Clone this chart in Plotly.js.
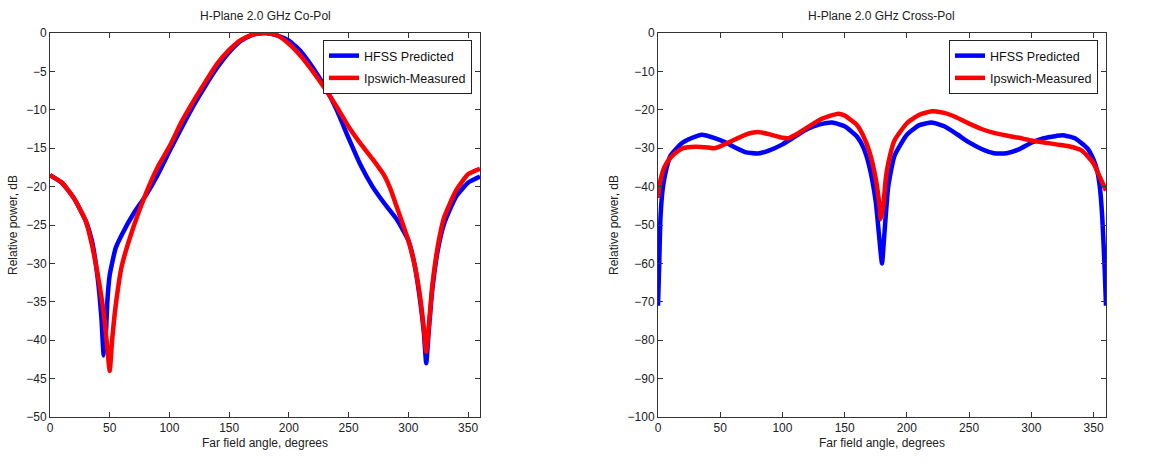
<!DOCTYPE html>
<html>
<head>
<meta charset="utf-8">
<script src="https://cdn.plot.ly/plotly-3.0.1.min.js"></script>
<style>html,body{margin:0;padding:0;background:#fff;}#chart{width:1159px;height:466px;}</style>
</head>
<body>
<div id="chart"></div>
<script>
// ---- Co-Pol (left) ----
const coAngleBlue = [0,10,20,30,35,40,43,45,47,48,50,55,60,70,80,90,100,110,120,130,140,150,160,170,180,190,200,210,220,230,240,250,260,270,280,290,300,305,310,313,315,317,320,325,330,340,350,360];
const coBlue      = [-18.5,-19.5,-21.5,-24.5,-27,-32,-37,-42,-38.5,-35,-31.5,-28,-26.3,-23.5,-21.2,-18.5,-15.4,-12.4,-9.5,-6.9,-4.5,-2.5,-1,-0.2,0,-0.3,-1,-2.4,-4.5,-7,-10,-13.7,-17.2,-20,-22.2,-24.2,-27,-30,-35,-39,-43,-39,-33.5,-28,-24.8,-21.3,-19.5,-18.7];
const coAngleRed  = [0,10,20,30,35,40,45,48,50,52,55,60,70,80,90,100,110,120,130,140,150,160,170,180,190,200,210,220,230,240,250,260,270,280,285,290,300,305,310,313,315,317,320,325,330,340,350,360];
const coRed       = [-18.5,-19.5,-21.5,-24.5,-27.5,-31.5,-36.5,-41,-44,-40,-35.5,-30.4,-25.2,-21,-17.5,-14.8,-11.6,-8.9,-6.4,-4,-2.2,-0.9,-0.2,0,-0.3,-1.4,-3,-5,-7.2,-9.6,-12.2,-14.4,-16.4,-18.6,-20.3,-22.5,-27,-30,-34.5,-38.5,-41.5,-38.5,-33,-27.5,-24,-20.5,-18.4,-17.7];

// ---- Cross-Pol (right) ----
const xpAngleBlue = [0,1,2,4,7,10,15,20,30,35,45,55,60,70,80,90,100,110,120,130,140,150,160,165,170,175,178,180,182,185,190,200,210,220,230,240,250,260,270,280,290,300,310,320,325,335,345,350,353,355,357,359,360];
const xpBlue      = [-71,-60,-48,-40,-35,-32,-30,-28.5,-27,-26.5,-27.3,-28.6,-29.5,-31,-31.4,-30.5,-29,-27,-25,-23.8,-23.3,-24.3,-27,-29.8,-35,-44,-54,-60,-52,-40,-32,-26.5,-24,-23.3,-24.3,-26.3,-28.5,-30.2,-31.3,-31.3,-30.3,-28.6,-27.4,-26.8,-26.6,-27.4,-30,-33,-36,-40,-48,-62,-71];
const xpAngleRed  = [0,1,3,5,10,15,20,30,40,45,50,60,70,80,90,100,105,110,120,130,140,145,150,160,165,170,175,178,179,181,183,185,190,200,210,220,230,240,250,260,270,280,290,300,310,320,330,340,345,350,355,360];
const xpRed       = [-43,-40,-37,-35,-32.5,-31,-30,-29.6,-29.8,-30,-29.5,-28,-26.5,-25.8,-26.4,-27.3,-27.4,-26.6,-24.6,-22.6,-21.4,-21,-21.5,-24,-26.8,-31,-38,-45,-48.5,-45,-38,-34,-28,-23.5,-21.3,-20.4,-20.8,-22,-23.6,-25,-26,-26.7,-27.3,-28,-28.5,-29,-29.5,-30.5,-32,-34,-37.5,-41];

const seriesNames = ['HFSS Predicted', 'Ipswich-Measured'];
const titles = ['H-Plane 2.0 GHz Co-Pol', 'H-Plane 2.0 GHz Cross-Pol'];
const xTickVals = [0,50,100,150,200,250,300,350];
const coYTicks = [0,-5,-10,-15,-20,-25,-30,-35,-40,-45,-50];
const xpYTicks = [0,-10,-20,-30,-40,-50,-60,-70,-80,-90,-100];

const FONT = 'Liberation Sans, Arial, sans-serif';
const BLUE = '#0000ff', RED = '#ff0000';

const line = (c) => ({color: c, width: 4.5, shape: 'spline', smoothing: 0.5});

const traces = [
  {x: coAngleBlue, y: coBlue, name: seriesNames[0], mode: 'lines', line: line(BLUE), xaxis: 'x', yaxis: 'y', legend: 'legend', legendgroup: 'a'},
  {x: coAngleRed, y: coRed, name: seriesNames[1], mode: 'lines', line: line(RED), xaxis: 'x', yaxis: 'y', legend: 'legend', legendgroup: 'b'},
  {x: xpAngleBlue, y: xpBlue, name: seriesNames[0], mode: 'lines', line: line(BLUE), xaxis: 'x2', yaxis: 'y2', legend: 'legend2', legendgroup: 'c'},
  {x: xpAngleRed, y: xpRed, name: seriesNames[1], mode: 'lines', line: line(RED), xaxis: 'x2', yaxis: 'y2', legend: 'legend2', legendgroup: 'd'}
];

const W = 1159, H = 466;
const yDom = [(H - 417) / H, (H - 33) / H];

function xAxis(dom) {
  return {
    domain: dom, range: [0, 360], tickvals: xTickVals, ticks: 'inside', ticklen: 5,
    tickcolor: '#333', showline: true, linecolor: '#333', linewidth: 1, mirror: 'ticks',
    showgrid: false, zeroline: false, tickfont: {family: FONT, size: 12, color: '#222'},
    title: {text: 'Far field angle, degrees', font: {family: FONT, size: 12, color: '#222'}, standoff: 4},
    fixedrange: true
  };
}
function yAxis(dom, range, ticks, anchor) {
  return {
    domain: dom, range: range, tickvals: ticks, ticks: 'inside', ticklen: 5, anchor: anchor,
    tickcolor: '#333', showline: true, linecolor: '#333', linewidth: 1, mirror: 'ticks',
    showgrid: false, zeroline: false, tickfont: {family: FONT, size: 12, color: '#222'},
    title: {text: 'Relative power, dB', font: {family: FONT, size: 12, color: '#222'}, standoff: 6},
    fixedrange: true
  };
}

const legendBase = {
  yanchor: 'top', xanchor: 'right', bgcolor: '#fff', bordercolor: '#222', borderwidth: 1,
  font: {family: FONT, size: 12.5, color: '#111'}, tracegroupgap: 3
};

const layout = {
  width: W, height: H, margin: {l: 0, r: 0, t: 0, b: 0},
  paper_bgcolor: '#fff', plot_bgcolor: '#fff', showlegend: true,
  xaxis: Object.assign(xAxis([50 / W, 480 / W]), {anchor: 'y'}),
  yaxis: yAxis(yDom, [-50, 0], coYTicks, 'x'),
  xaxis2: Object.assign(xAxis([658 / W, 1106 / W]), {anchor: 'y2'}),
  yaxis2: yAxis(yDom, [-100, 0], xpYTicks, 'x2'),
  legend: Object.assign({x: 472 / W, y: 1 - 40 / H}, legendBase),
  legend2: Object.assign({x: 1098 / W, y: 1 - 40 / H}, legendBase),
  annotations: [
    {text: titles[0], xref: 'paper', yref: 'paper', x: 265 / W, y: 1 - 16 / H, showarrow: false, xanchor: 'center', yanchor: 'middle', font: {family: FONT, size: 12, color: '#222'}},
    {text: titles[1], xref: 'paper', yref: 'paper', x: 882 / W, y: 1 - 16 / H, showarrow: false, xanchor: 'center', yanchor: 'middle', font: {family: FONT, size: 12, color: '#222'}}
  ]
};

Plotly.newPlot('chart', traces, layout, {displayModeBar: false, staticPlot: true});
</script>
</body>
</html>
